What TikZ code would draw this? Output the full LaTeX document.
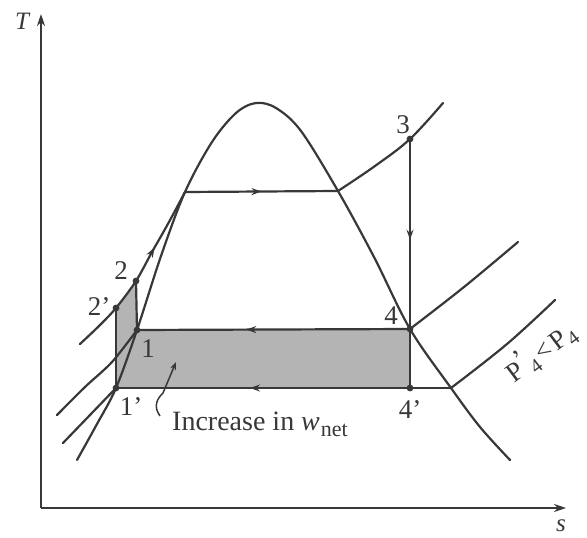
\documentclass[tikz,border=0pt]{standalone}
\usepackage{fontspec}
\setmainfont{Liberation Serif}
\usetikzlibrary{arrows.meta,decorations.markings}
\definecolor{ink}{HTML}{383838}
\definecolor{areagray}{HTML}{B4B4B4}
\tikzset{
  curve/.style={draw=ink,line width=2.2pt,line cap=round,line join=round},
  midarrow/.style={postaction={decorate},decoration={markings,
     mark=at position #1 with {\arrow[ink]{Stealth[length=10pt,width=7pt]}}}},
  pt/.style={fill=ink},
  lbl/.style={text=ink,font=\fontsize{27}{30}\selectfont,inner sep=0pt},
  axis/.style={draw=ink,line width=1.8pt,-{Stealth[length=12pt,width=8pt]}}
}
\begin{document}
\begin{tikzpicture}[x=1pt,y=-1pt]
\useasboundingbox (0,0) rectangle (587,538);
\clip (0,0) rectangle (587,538);
% key points
\coordinate (o) at (41,508);
\coordinate (ytip) at (41,14);
\coordinate (xtip) at (566,508);
\coordinate (c1) at (137,330);
\coordinate (c1p) at (116,388);
\coordinate (c2) at (136,281);
\coordinate (c2p) at (116,308);
\coordinate (c3) at (410,139);
\coordinate (c4) at (410,329);
\coordinate (c4p) at (410,388);
\coordinate (satL) at (185,192);
\coordinate (satV) at (338,191);
\coordinate (x4p) at (451,388);
% shaded area
\fill[areagray] (c1p) -- (c2p) -- (c2) -- (c1) -- (c4) -- (c4p) -- cycle;
% axes
\draw[axis] (o) -- (ytip);
\draw[axis] (o) -- (xtip);
\node[lbl,font=\fontsize{25}{28}\selectfont\itshape] (T) at (22,21) {T};
\node[lbl,font=\fontsize{25}{28}\selectfont\itshape] (s) at (561,526) {s};
% saturation dome
\draw[curve] plot[smooth,tension=0.55] coordinates {(77,460) (97,424) (c1p) (c1) (161,256) (satL) (212,142) (236,113) (256,103) (276,108) (301,131) (satV) (374,257) (c4) (x4p) (480,427) (510,460)};
% compressed-liquid isobars
\draw[curve,midarrow=0.66] plot[smooth,tension=0.5] coordinates {(80,344) (99,326) (c2p) (c2) (152,252) (169,222) (satL)};
\draw[curve] plot[smooth,tension=0.5] coordinates {(57,415) (85,387) (112,362) (c1)};
\draw[curve] plot[smooth,tension=0.5] coordinates {(63,443) (90,415) (c1p)};
% boiler line and superheat isobar
\draw[curve,midarrow=0.5] (satL) -- (satV);
\draw[curve] plot[smooth,tension=0.6] coordinates {(satV) (375,166) (c3) (443,103)};
% turbine
\draw[curve,midarrow=0.53] (c3) -- (c4);
\draw[curve] (c4) -- (c4p);
% condenser lines
\draw[curve,midarrow=0.6] (c4) -- (c1);
\draw[curve,midarrow=0.6] (x4p) -- (c1p);
% pump lines
\draw[curve] (c1p) -- (c2p);
\draw[curve] (c1) -- (c2);
% superheated isobars at condenser pressures
\draw[curve] plot[smooth,tension=0.6] coordinates {(c4) (464,287) (518,242)};
\draw[curve] plot[smooth,tension=0.6] coordinates {(x4p) (507,344) (555,300)};
% state points
\foreach \p in {c1,c1p,c2,c2p,c3,c4,c4p} \fill[pt] (\p) circle (3.4pt);
% labels
\node[lbl] (l3) at (403,125) {3};
\node[lbl] (l4) at (391,316) {4};
\node[lbl] (l4p) at (410,410) {4'};
\node[lbl] (l1) at (148,349) {1};
\node[lbl] (l1p) at (131,407) {1'};
\node[lbl] (l2) at (121,271) {2};
\node[lbl] (l2p) at (99,307) {2'};
\node[lbl,font=\fontsize{28}{32}\selectfont,anchor=base west] (inc) at (172,430) {Increase in \textit{w}\kern1pt\raisebox{-6pt}{\fontsize{22}{24}\selectfont net}};
\coordinate (ptr) at (176,362);
\coordinate (ptrs) at (160,416);
\draw[draw=ink,line width=1.5pt,-{Stealth[length=8pt,width=6pt]}] (ptrs) .. controls (153,406) and (157,399) .. (163,393) -- (ptr);
\node[lbl,font=\fontsize{27}{30}\selectfont,anchor=base west,rotate=37] (pl) at (514,384) {P\raisebox{8pt}{'}\kern-1pt\raisebox{-6pt}{\fontsize{20}{22}\selectfont 4}\kern3pt<\kern3pt P\raisebox{-6pt}{\fontsize{20}{22}\selectfont 4}};
\end{tikzpicture}
\end{document}
